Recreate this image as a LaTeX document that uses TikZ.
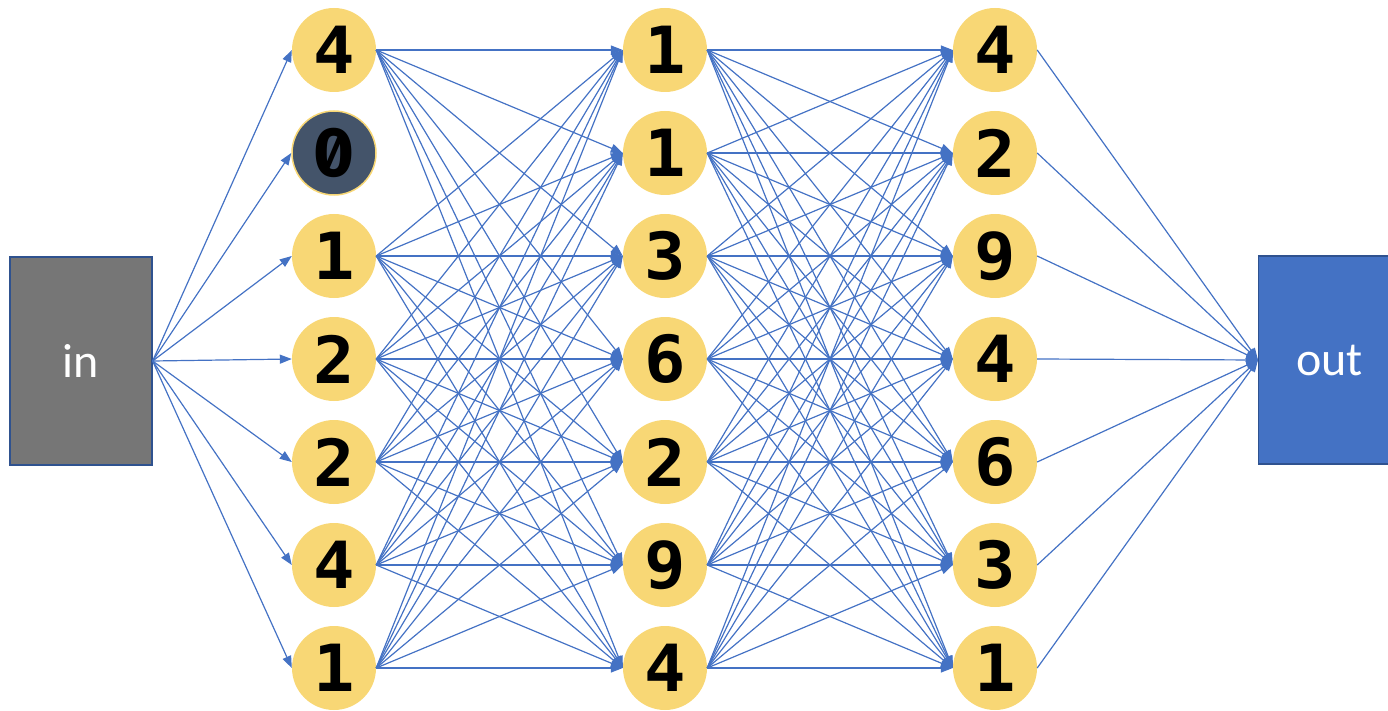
\documentclass[tikz,border=0pt]{standalone}
\usepackage{fontspec}
\setmainfont{Carlito}
\newfontfamily\digitfont[FakeStretch=1.06]{DejaVu Sans Mono}
\newfontfamily\zerofont[RawFeature=+zero]{Fira Sans}
\usetikzlibrary{arrows.meta}
\definecolor{neuron}{HTML}{F8D775}
\definecolor{dropped}{HTML}{44546A}
\definecolor{link}{HTML}{4472C4}
\definecolor{boxedge}{HTML}{2F528F}
\definecolor{ingray}{HTML}{767676}
\begin{document}
\begin{tikzpicture}[x=1pt,y=-1pt,
  unit/.style={circle,fill=neuron,minimum size=84pt,inner sep=0pt,
    font=\digitfont\bfseries\fontsize{65}{65}\selectfont},
  offunit/.style={unit,fill=dropped,draw=neuron,line width=1.5pt,
    font=\zerofont\bfseries\fontsize{70}{70}\selectfont},
  iobox/.style={rectangle,draw=boxedge,line width=1.2pt,text=white,
    font=\fontsize{48}{48}\selectfont},
  wire/.style={draw=link,line width=1.2pt,-{Triangle[length=12pt,width=9pt]}}]
\useasboundingbox (0,0) rectangle (1388,711);
% input and output blocks
\node[iobox,fill=ingray,minimum width=142pt,minimum height=208pt] (in) at (81,361) {in};
\node[iobox,fill=link,minimum width=142pt,minimum height=208pt,anchor=west] (out) at (1258,360) {out};
% three layers of units
\foreach \v [count=\i] in {4,0,1,2,2,4,1} {
  \ifnum\i=2
    \node[offunit] (a\i) at (334,{50+103*(\i-1)}) {\v};
  \else
    \node[unit] (a\i) at (334,{50+103*(\i-1)}) {\v};
  \fi
}
\foreach \v [count=\i] in {1,1,3,6,2,9,4}
  \node[unit] (b\i) at (665,{50+103*(\i-1)}) {\v};
\foreach \v [count=\i] in {4,2,9,4,6,3,1}
  \node[unit] (c\i) at (995,{50+103*(\i-1)}) {\v};
% connections
\foreach \i in {1,...,7}
  \draw[wire] (in.east) -- (a\i.west);
\foreach \i in {1,3,4,5,6,7}
  \foreach \j in {1,...,7}
    \draw[wire] (a\i.east) -- (b\j.west);
\foreach \i in {1,...,7}
  \foreach \j in {1,...,7}
    \draw[wire] (b\i.east) -- (c\j.west);
\foreach \i in {1,...,7}
  \draw[wire] (c\i.east) -- (out.west);
\end{tikzpicture}
\end{document}
